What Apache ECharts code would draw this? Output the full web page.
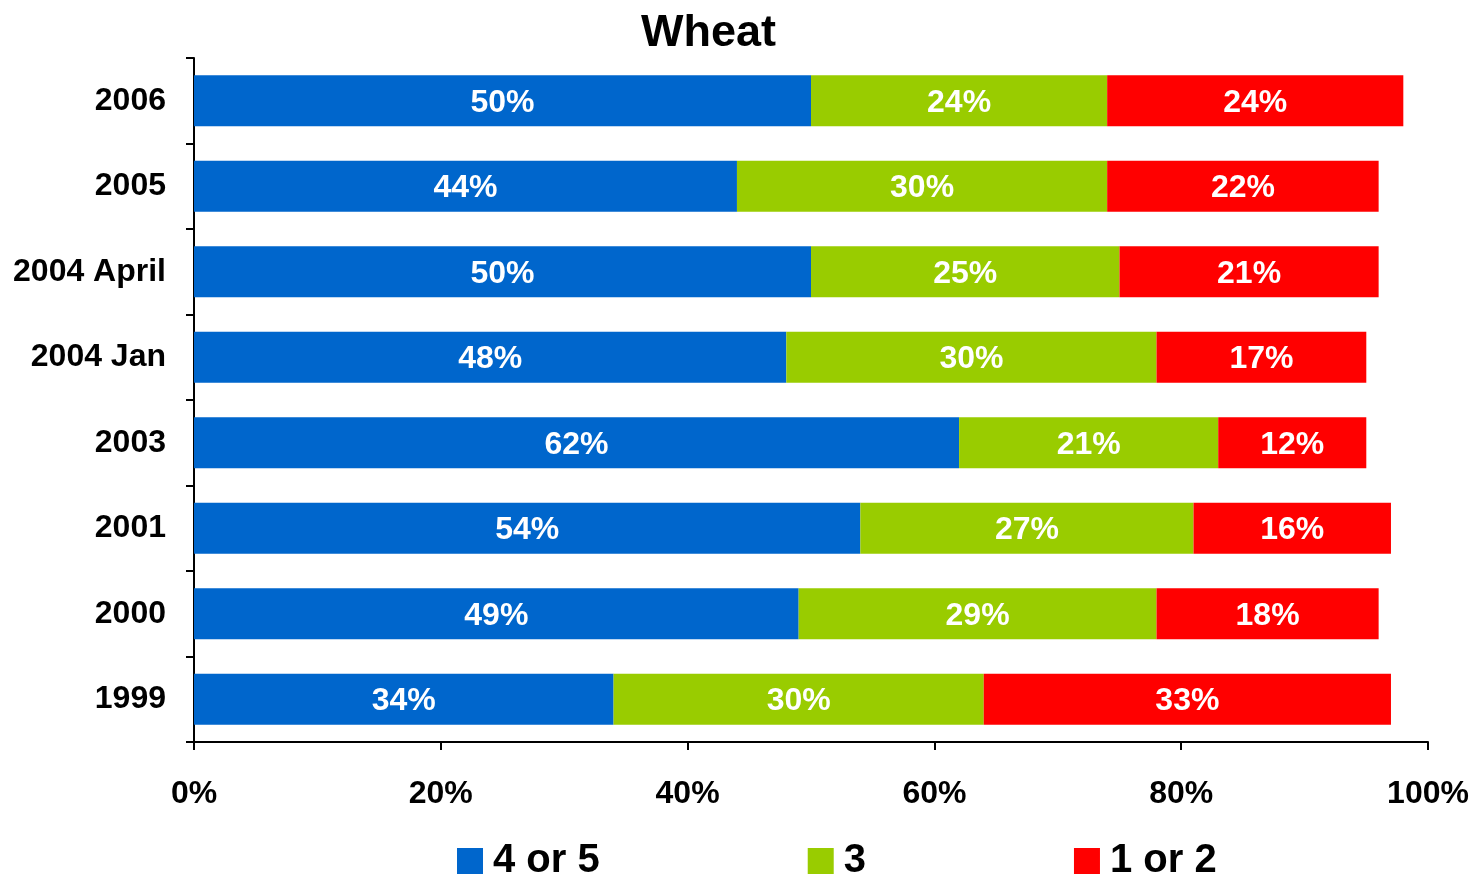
<!DOCTYPE html>
<html>
<head>
<meta charset="utf-8">
<style>
  html, body { margin: 0; padding: 0; background: #fff; }
  #chart { width: 1477px; height: 877px; }
</style>
<script src="https://cdn.jsdelivr.net/npm/echarts@6/dist/echarts.min.js"></script>
</head>
<body>
<div id="chart"></div>
<script>
// categories, bottom to top
const years = ['1999', '2000', '2001', '2003', '2004 Jan', '2004 April', '2005', '2006']
const high = [34, 49, 54, 62, 48, 50, 44, 50]
const mid = [30, 29, 27, 21, 30, 25, 30, 24]
const low = [33, 18, 16, 12, 17, 21, 22, 24]
const seriesNames = ['4 or 5', '3', '1 or 2']

const font = '"Liberation Sans", Arial, sans-serif'

function barSeries (name, data) {
  return {
    name,
    type: 'bar',
    stack: 'total',
    barWidth: 51,
    data,
    label: {
      show: true,
      position: 'inside',
      offset: [0, 2],
      color: '#fff',
      fontFamily: font,
      fontWeight: 'bold',
      fontSize: 32,
      formatter: '{c}%'
    }
  }
}

const myChart = echarts.init(document.getElementById('chart'))

myChart.setOption({
  animation: false,
  color: ['#0066cc', '#99cc00', '#ff0000'],
  title: {
    text: 'Wheat',
    left: 636,
    top: 6,
    textStyle: { fontFamily: font, fontWeight: 'bold', fontSize: 45, color: '#000' }
  },
  legend: {
    data: seriesNames,
    bottom: -9,
    left: 452,
    itemWidth: 26,
    itemHeight: 26,
    itemGap: 208,
    icon: 'rect',
    textStyle: {
      fontFamily: font,
      fontWeight: 'bold',
      fontSize: 40,
      color: '#000',
      padding: [0, 0, 0, 5]
    }
  },
  grid: { left: 194, right: 49, top: 58, bottom: 135 },
  xAxis: {
    type: 'value',
    min: 0,
    max: 100,
    interval: 20,
    splitLine: { show: false },
    axisLine: { show: true, lineStyle: { color: '#000', width: 2 } },
    axisTick: { show: true, length: 8, lineStyle: { color: '#000', width: 2 } },
    axisLabel: {
      margin: 36,
      color: '#000',
      fontFamily: font,
      fontWeight: 'bold',
      fontSize: 32,
      formatter: '{value}%'
    }
  },
  yAxis: {
    type: 'category',
    data: years,
    axisLine: { show: true, lineStyle: { color: '#000', width: 2 } },
    axisTick: { show: true, length: 8, lineStyle: { color: '#000', width: 2 } },
    axisLabel: {
      margin: 28,
      color: '#000',
      fontFamily: font,
      fontWeight: 'bold',
      fontSize: 32
    }
  },
  series: [
    barSeries(seriesNames[0], high),
    barSeries(seriesNames[1], mid),
    barSeries(seriesNames[2], low)
  ]
})
</script>
</body>
</html>
